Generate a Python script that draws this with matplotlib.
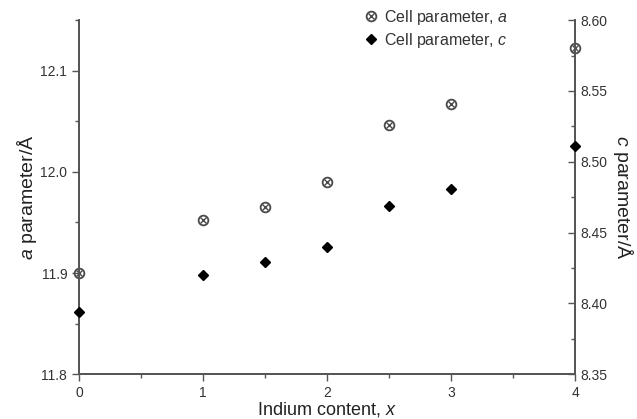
import matplotlib
matplotlib.use("Agg")
from matplotlib import pyplot as plt
from matplotlib.ticker import MultipleLocator
from matplotlib.lines import Line2D

plt.rcParams['font.family'] = ['Liberation Sans', 'DejaVu Sans']
plt.rcParams['mathtext.fontset'] = 'custom'
plt.rcParams['mathtext.rm'] = 'Liberation Sans'
plt.rcParams['mathtext.it'] = 'Liberation Sans:italic'

# indium content and lattice parameters
indium_x = [0, 1, 1.5, 2, 2.5, 3, 4]
a_param = [11.900, 11.952, 11.965, 11.990, 12.046, 12.067, 12.122]
c_param = [8.394, 8.420, 8.429, 8.440, 8.469, 8.481, 8.511]

axis_col = '#555555'
text_col = '#333333'
a_col = '#4a4a4a'

fig = plt.figure(figsize=(6.37, 4.19), dpi=100)
ax = fig.add_axes([0.124, 0.107, 0.779, 0.845])
ax2 = ax.twinx()

# cell parameter a: open circle with a cross inside
ax.plot(indium_x, a_param, ls='none', marker='o', ms=7, mfc='none',
        mec=a_col, mew=1.3, zorder=3, clip_on=False)
ax.plot(indium_x, a_param, ls='none', marker='x', ms=4.5, color=a_col,
        mew=1.0, zorder=3, clip_on=False)
ax2.plot(indium_x, c_param, ls='none', marker='D', ms=5.5, color='black',
         zorder=3, clip_on=False)

ax.set_xlim(0, 4)
ax.set_ylim(11.8, 12.15)
ax2.set_ylim(8.35, 8.60)

ax.xaxis.set_major_locator(MultipleLocator(1))
ax.xaxis.set_minor_locator(MultipleLocator(0.5))
ax.yaxis.set_major_locator(MultipleLocator(0.1))
ax.yaxis.set_minor_locator(MultipleLocator(0.05))
ax2.yaxis.set_major_locator(MultipleLocator(0.05))
ax2.yaxis.set_minor_locator(MultipleLocator(0.025))
ax.yaxis.set_major_formatter(plt.FormatStrFormatter('%.1f'))
ax2.yaxis.set_major_formatter(plt.FormatStrFormatter('%.2f'))

for a in (ax, ax2):
    a.spines['top'].set_visible(False)
    for s in ('left', 'right', 'bottom'):
        a.spines[s].set_color(axis_col)
        a.spines[s].set_linewidth(1.3)
    a.tick_params(which='major', length=5, width=1.0, color=axis_col,
                  labelsize=10, labelcolor=text_col)
    a.tick_params(which='minor', length=3, width=1.0, color=axis_col)
ax2.tick_params(axis='y', which='both', direction='in')

ax.set_xlabel('Indium content, $\\it{x}$', fontsize=13, color='#222222', labelpad=0)
ax.set_ylabel('$\\it{a}$ parameter/Å', fontsize=14, color='#222222', labelpad=1)
ax2.set_ylabel('$\\it{c}$ parameter/Å', fontsize=14, color='#222222',
               rotation=270, labelpad=20)

# legend handles: the a marker is two overlaid markers
h_a1 = Line2D([], [], ls='none', marker='o', ms=7, mfc='none', mec=a_col, mew=1.3)
h_a2 = Line2D([], [], ls='none', marker='x', ms=4.5, color=a_col, mew=1.0)
h_c = Line2D([], [], ls='none', marker='D', ms=5.5, color='black')
leg = ax.legend([(h_a1, h_a2), h_c],
                ['Cell parameter, $\\it{a}$', 'Cell parameter, $\\it{c}$'],
                loc='upper left', bbox_to_anchor=(0.535, 1.075), frameon=False,
                fontsize=11.5, handletextpad=0.1, labelspacing=0.25,
                handlelength=1.5)
for t in leg.get_texts():
    t.set_color(text_col)

fig.savefig('out.png', dpi=100)
